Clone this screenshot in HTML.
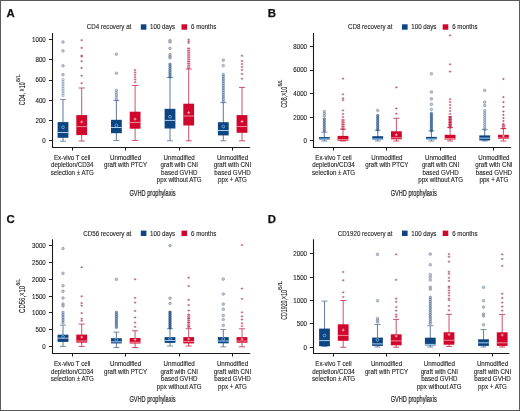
<!DOCTYPE html>
<html><head><meta charset="utf-8"><style>
html,body{margin:0;padding:0;background:#fff;}
.wrap{position:relative;width:520px;height:411px;overflow:hidden;background:#fff;}
.wrap svg{position:absolute;left:0;top:0;}
.t{fill:#1e1e1e;stroke:#1e1e1e;stroke-width:0.12px;}
svg{will-change:transform;}
.border{position:absolute;left:0;top:0;width:518px;height:409px;border:1px solid #5a5a5a;}
</style></head><body>
<div class="wrap">
<svg width="520" height="411" viewBox="0 0 520 411" font-family='"Liberation Sans", sans-serif'>
<text x="6.6" y="16.6" font-size="11.4" font-weight="bold" fill="#111" stroke="#111" stroke-width="0.25">A</text>
<text transform="translate(131.3,29.2) scale(0.895,1)" font-size="6.9" text-anchor="end" class="t">CD4 recovery at</text>
<rect x="140.8" y="24.3" width="5.6" height="5.4" fill="#0e4580"/>
<text transform="translate(150.1,29.2) scale(0.895,1)" font-size="6.9" class="t">100 days</text>
<rect x="181.5" y="24.3" width="5.6" height="5.4" fill="#d0062c"/>
<text transform="translate(191,29.2) scale(0.895,1)" font-size="6.9" class="t">6 months</text>
<line x1="52.5" y1="33" x2="52.5" y2="148" stroke="#1a1a1a" stroke-width="1.1"/>
<line x1="52" y1="147.5" x2="250.2" y2="147.5" stroke="#1a1a1a" stroke-width="1.1"/>
<line x1="72.5" y1="147.5" x2="72.5" y2="150.5" stroke="#1a1a1a" stroke-width="1"/>
<line x1="125.5" y1="147.5" x2="125.5" y2="150.5" stroke="#1a1a1a" stroke-width="1"/>
<line x1="179.5" y1="147.5" x2="179.5" y2="150.5" stroke="#1a1a1a" stroke-width="1"/>
<line x1="232.5" y1="147.5" x2="232.5" y2="150.5" stroke="#1a1a1a" stroke-width="1"/>
<line x1="48.9" y1="140.5" x2="52.5" y2="140.5" stroke="#222" stroke-width="1"/>
<text transform="translate(45.8,142.7) scale(0.895,1)" font-size="6.9" text-anchor="end" class="t">0</text>
<line x1="48.9" y1="120.5" x2="52.5" y2="120.5" stroke="#222" stroke-width="1"/>
<text transform="translate(45.8,122.6) scale(0.895,1)" font-size="6.9" text-anchor="end" class="t">200</text>
<line x1="48.9" y1="100.5" x2="52.5" y2="100.5" stroke="#222" stroke-width="1"/>
<text transform="translate(45.8,102.5) scale(0.895,1)" font-size="6.9" text-anchor="end" class="t">400</text>
<line x1="48.9" y1="80.5" x2="52.5" y2="80.5" stroke="#222" stroke-width="1"/>
<text transform="translate(45.8,82.4) scale(0.895,1)" font-size="6.9" text-anchor="end" class="t">600</text>
<line x1="48.9" y1="59.5" x2="52.5" y2="59.5" stroke="#222" stroke-width="1"/>
<text transform="translate(45.8,62.3) scale(0.895,1)" font-size="6.9" text-anchor="end" class="t">800</text>
<line x1="48.9" y1="39.5" x2="52.5" y2="39.5" stroke="#222" stroke-width="1"/>
<text transform="translate(45.8,42.2) scale(0.895,1)" font-size="6.9" text-anchor="end" class="t">1000</text>
<g transform="translate(25.4,105.2) rotate(-90)" style="stroke-width:0.22px"><text x="0" y="0" font-size="8.7" textLength="22.9" lengthAdjust="spacingAndGlyphs" class="t">CD4, ×10</text><text x="23.2" y="-5.0" font-size="5.6" textLength="7.7" lengthAdjust="spacingAndGlyphs" class="t">6/L</text></g>
<text transform="translate(72.2,159.6) scale(0.895,1)" font-size="6.9" text-anchor="middle" class="t">Ex-vivo T cell</text>
<text transform="translate(72.2,167.2) scale(0.895,1)" font-size="6.9" text-anchor="middle" class="t">depletion/CD34</text>
<text transform="translate(72.2,174.8) scale(0.895,1)" font-size="6.9" text-anchor="middle" class="t">selection ± ATG</text>
<text transform="translate(125.6,159.6) scale(0.895,1)" font-size="6.9" text-anchor="middle" class="t">Unmodified</text>
<text transform="translate(125.6,167.2) scale(0.895,1)" font-size="6.9" text-anchor="middle" class="t">graft with PTCY</text>
<text transform="translate(179.2,159.6) scale(0.895,1)" font-size="6.9" text-anchor="middle" class="t">Unmodified</text>
<text transform="translate(179.2,167.2) scale(0.895,1)" font-size="6.9" text-anchor="middle" class="t">graft with CNI</text>
<text transform="translate(179.2,174.8) scale(0.895,1)" font-size="6.9" text-anchor="middle" class="t">based GVHD</text>
<text transform="translate(179.2,182.4) scale(0.895,1)" font-size="6.9" text-anchor="middle" class="t">ppx without ATG</text>
<text transform="translate(232.5,159.6) scale(0.895,1)" font-size="6.9" text-anchor="middle" class="t">Unmodified</text>
<text transform="translate(232.5,167.2) scale(0.895,1)" font-size="6.9" text-anchor="middle" class="t">graft with CNI</text>
<text transform="translate(232.5,174.8) scale(0.895,1)" font-size="6.9" text-anchor="middle" class="t">based GVHD</text>
<text transform="translate(232.5,182.4) scale(0.895,1)" font-size="6.9" text-anchor="middle" class="t">ppx + ATG</text>
<text x="129.5" y="195.8" font-size="8.7" textLength="46" lengthAdjust="spacingAndGlyphs" class="t" style="stroke-width:0.2px">GVHD prophylaxis</text>
<line x1="63" y1="99.5" x2="63" y2="141.2" stroke="#6a84a4" stroke-width="1.1"/>
<line x1="60" y1="99.5" x2="66" y2="99.5" stroke="#6a84a4" stroke-width="0.9"/>
<line x1="60" y1="141.2" x2="66" y2="141.2" stroke="#6a84a4" stroke-width="0.9"/>
<rect x="61.7" y="78.5" width="2.6" height="18.2" fill="#1f4a80" opacity="0.15"/>
<circle cx="63" cy="42" r="1.3" fill="#a8acb4" fill-opacity="0.75" stroke="#7a8aa2" stroke-width="0.7" opacity="0.9"/>
<circle cx="63" cy="50.8" r="1.3" fill="#a8acb4" fill-opacity="0.75" stroke="#7a8aa2" stroke-width="0.7" opacity="0.9"/>
<circle cx="63" cy="65.8" r="1.3" fill="#a8acb4" fill-opacity="0.75" stroke="#7a8aa2" stroke-width="0.7" opacity="0.9"/>
<circle cx="63" cy="74.7" r="1.3" fill="#a8acb4" fill-opacity="0.75" stroke="#7a8aa2" stroke-width="0.7" opacity="0.9"/>
<circle cx="63" cy="79.5" r="1.2" fill="none" stroke="#2c5a90" stroke-width="0.6" opacity="0.45"/>
<circle cx="63" cy="81.81" r="1.2" fill="none" stroke="#2c5a90" stroke-width="0.6" opacity="0.45"/>
<circle cx="63" cy="84.13" r="1.2" fill="none" stroke="#2c5a90" stroke-width="0.6" opacity="0.45"/>
<circle cx="63" cy="86.44" r="1.2" fill="none" stroke="#2c5a90" stroke-width="0.6" opacity="0.45"/>
<circle cx="63" cy="88.76" r="1.2" fill="none" stroke="#2c5a90" stroke-width="0.6" opacity="0.45"/>
<circle cx="63" cy="91.07" r="1.2" fill="none" stroke="#2c5a90" stroke-width="0.6" opacity="0.45"/>
<circle cx="63" cy="93.39" r="1.2" fill="none" stroke="#2c5a90" stroke-width="0.6" opacity="0.45"/>
<circle cx="63" cy="95.7" r="1.2" fill="none" stroke="#2c5a90" stroke-width="0.6" opacity="0.45"/>
<rect x="57.6" y="122.1" width="10.8" height="15.7" fill="#0e4580"/>
<line x1="57.6" y1="132.5" x2="68.4" y2="132.5" stroke="#a8d0f4" stroke-width="1"/>
<circle cx="63" cy="127.3" r="1.4" fill="none" stroke="#8fbce6" stroke-width="0.7"/>
<line x1="81.7" y1="88" x2="81.7" y2="141" stroke="#c4405e" stroke-width="0.9"/>
<line x1="78.7" y1="88" x2="84.7" y2="88" stroke="#c4405e" stroke-width="0.9"/>
<line x1="78.7" y1="141" x2="84.7" y2="141" stroke="#c4405e" stroke-width="0.9"/>
<path d="M80.4 40.2H83M81.7 39.1V41.3" stroke="#b04a66" stroke-width="0.9" fill="none" opacity="0.8"/>
<path d="M80.4 47.9H83M81.7 46.8V49" stroke="#b04a66" stroke-width="0.9" fill="none" opacity="0.8"/>
<path d="M80.4 55.6H83M81.7 54.5V56.7" stroke="#b04a66" stroke-width="0.9" fill="none" opacity="0.8"/>
<path d="M80.4 56.6H83M81.7 55.5V57.7" stroke="#b04a66" stroke-width="0.9" fill="none" opacity="0.8"/>
<path d="M80.4 61.2H83M81.7 60.1V62.3" stroke="#b04a66" stroke-width="0.9" fill="none" opacity="0.8"/>
<path d="M80.4 67.9H83M81.7 66.8V69" stroke="#b04a66" stroke-width="0.9" fill="none" opacity="0.8"/>
<path d="M80.4 75.7H83M81.7 74.6V76.8" stroke="#b04a66" stroke-width="0.9" fill="none" opacity="0.8"/>
<path d="M80.4 83.2H83M81.7 82.1V84.3" stroke="#b04a66" stroke-width="0.9" fill="none" opacity="0.8"/>
<rect x="76.3" y="115.1" width="10.8" height="20" fill="#d0062c"/>
<line x1="76.3" y1="126.6" x2="87.1" y2="126.6" stroke="#f28c9c" stroke-width="1"/>
<path d="M80.3 122H83.1M81.7 120.6V123.4" stroke="#f6c0c8" stroke-width="0.8" fill="none"/>
<line x1="116.4" y1="100.4" x2="116.4" y2="140.5" stroke="#6a84a4" stroke-width="1.1"/>
<line x1="113.4" y1="100.4" x2="119.4" y2="100.4" stroke="#6a84a4" stroke-width="0.9"/>
<line x1="113.4" y1="140.5" x2="119.4" y2="140.5" stroke="#6a84a4" stroke-width="0.9"/>
<rect x="115.1" y="89.2" width="2.6" height="11.8" fill="#1f4a80" opacity="0.25"/>
<circle cx="116.4" cy="54.2" r="1.3" fill="#a8acb4" fill-opacity="0.75" stroke="#7a8aa2" stroke-width="0.7" opacity="0.9"/>
<circle cx="116.4" cy="73.2" r="1.3" fill="#a8acb4" fill-opacity="0.75" stroke="#7a8aa2" stroke-width="0.7" opacity="0.9"/>
<circle cx="116.4" cy="90.2" r="1.2" fill="none" stroke="#2c5a90" stroke-width="0.6" opacity="0.55"/>
<circle cx="116.4" cy="92.65" r="1.2" fill="none" stroke="#2c5a90" stroke-width="0.6" opacity="0.55"/>
<circle cx="116.4" cy="95.1" r="1.2" fill="none" stroke="#2c5a90" stroke-width="0.6" opacity="0.55"/>
<circle cx="116.4" cy="97.55" r="1.2" fill="none" stroke="#2c5a90" stroke-width="0.6" opacity="0.55"/>
<circle cx="116.4" cy="100" r="1.2" fill="none" stroke="#2c5a90" stroke-width="0.6" opacity="0.55"/>
<rect x="111" y="119.8" width="10.8" height="13.4" fill="#0e4580"/>
<line x1="111" y1="127.5" x2="121.8" y2="127.5" stroke="#a8d0f4" stroke-width="1"/>
<circle cx="116.4" cy="125.5" r="1.4" fill="none" stroke="#8fbce6" stroke-width="0.7"/>
<line x1="135.1" y1="85.5" x2="135.1" y2="140.5" stroke="#c4405e" stroke-width="0.9"/>
<line x1="132.1" y1="85.5" x2="138.1" y2="85.5" stroke="#c4405e" stroke-width="0.9"/>
<line x1="132.1" y1="140.5" x2="138.1" y2="140.5" stroke="#c4405e" stroke-width="0.9"/>
<path d="M133.8 70H136.4M135.1 68.9V71.1" stroke="#b04a66" stroke-width="0.9" fill="none" opacity="0.8"/>
<path d="M133.8 72.4H136.4M135.1 71.3V73.5" stroke="#b04a66" stroke-width="0.9" fill="none" opacity="0.8"/>
<path d="M133.8 74.8H136.4M135.1 73.7V75.9" stroke="#b04a66" stroke-width="0.9" fill="none" opacity="0.8"/>
<path d="M133.8 77.2H136.4M135.1 76.1V78.3" stroke="#b04a66" stroke-width="0.9" fill="none" opacity="0.8"/>
<path d="M133.8 79.6H136.4M135.1 78.5V80.7" stroke="#b04a66" stroke-width="0.9" fill="none" opacity="0.8"/>
<path d="M133.8 82.2H136.4M135.1 81.1V83.3" stroke="#b04a66" stroke-width="0.9" fill="none" opacity="0.8"/>
<rect x="129.7" y="111.7" width="10.8" height="17" fill="#d0062c"/>
<line x1="129.7" y1="122.4" x2="140.5" y2="122.4" stroke="#f28c9c" stroke-width="1"/>
<path d="M133.7 119.1H136.5M135.1 117.7V120.5" stroke="#f6c0c8" stroke-width="0.8" fill="none"/>
<line x1="170" y1="77.5" x2="170" y2="140.8" stroke="#6a84a4" stroke-width="1.1"/>
<line x1="167" y1="77.5" x2="173" y2="77.5" stroke="#6a84a4" stroke-width="0.9"/>
<line x1="167" y1="140.8" x2="173" y2="140.8" stroke="#6a84a4" stroke-width="0.9"/>
<rect x="168.7" y="63.2" width="2.6" height="14.8" fill="#1f4a80" opacity="0.5"/>
<circle cx="170" cy="40.5" r="1.3" fill="#a8acb4" fill-opacity="0.75" stroke="#7a8aa2" stroke-width="0.7" opacity="0.9"/>
<circle cx="170" cy="42" r="1.3" fill="#a8acb4" fill-opacity="0.75" stroke="#7a8aa2" stroke-width="0.7" opacity="0.9"/>
<circle cx="170" cy="48.4" r="1.3" fill="#a8acb4" fill-opacity="0.75" stroke="#7a8aa2" stroke-width="0.7" opacity="0.9"/>
<circle cx="170" cy="54.7" r="1.3" fill="#a8acb4" fill-opacity="0.75" stroke="#7a8aa2" stroke-width="0.7" opacity="0.9"/>
<circle cx="170" cy="56.3" r="1.3" fill="#a8acb4" fill-opacity="0.75" stroke="#7a8aa2" stroke-width="0.7" opacity="0.9"/>
<circle cx="170" cy="57.9" r="1.3" fill="#a8acb4" fill-opacity="0.75" stroke="#7a8aa2" stroke-width="0.7" opacity="0.9"/>
<circle cx="170" cy="64.2" r="1.2" fill="none" stroke="#2c5a90" stroke-width="0.6" opacity="0.8"/>
<circle cx="170" cy="66.33" r="1.2" fill="none" stroke="#2c5a90" stroke-width="0.6" opacity="0.8"/>
<circle cx="170" cy="68.47" r="1.2" fill="none" stroke="#2c5a90" stroke-width="0.6" opacity="0.8"/>
<circle cx="170" cy="70.6" r="1.2" fill="none" stroke="#2c5a90" stroke-width="0.6" opacity="0.8"/>
<circle cx="170" cy="72.73" r="1.2" fill="none" stroke="#2c5a90" stroke-width="0.6" opacity="0.8"/>
<circle cx="170" cy="74.87" r="1.2" fill="none" stroke="#2c5a90" stroke-width="0.6" opacity="0.8"/>
<circle cx="170" cy="77" r="1.2" fill="none" stroke="#2c5a90" stroke-width="0.6" opacity="0.8"/>
<rect x="164.6" y="108.8" width="10.8" height="19.7" fill="#0e4580"/>
<line x1="164.6" y1="120.4" x2="175.4" y2="120.4" stroke="#a8d0f4" stroke-width="1"/>
<circle cx="170" cy="116.8" r="1.4" fill="none" stroke="#8fbce6" stroke-width="0.7"/>
<line x1="188.7" y1="69" x2="188.7" y2="140.8" stroke="#c4405e" stroke-width="0.9"/>
<line x1="185.7" y1="69" x2="191.7" y2="69" stroke="#c4405e" stroke-width="0.9"/>
<line x1="185.7" y1="140.8" x2="191.7" y2="140.8" stroke="#c4405e" stroke-width="0.9"/>
<rect x="187.2" y="47.4" width="3" height="21.6" fill="#c81a3c" opacity="0.35"/>
<path d="M187.4 39.7H190M188.7 38.6V40.8" stroke="#b04a66" stroke-width="0.9" fill="none" opacity="0.8"/>
<path d="M187.4 41.3H190M188.7 40.2V42.4" stroke="#b04a66" stroke-width="0.9" fill="none" opacity="0.8"/>
<path d="M187.4 42.9H190M188.7 41.8V44" stroke="#b04a66" stroke-width="0.9" fill="none" opacity="0.8"/>
<rect x="187.2" y="47.9" width="3" height="1" fill="#c42244" opacity="0.65"/>
<rect x="187.2" y="50.08" width="3" height="1" fill="#c42244" opacity="0.65"/>
<rect x="187.2" y="52.26" width="3" height="1" fill="#c42244" opacity="0.65"/>
<rect x="187.2" y="54.43" width="3" height="1" fill="#c42244" opacity="0.65"/>
<rect x="187.2" y="56.61" width="3" height="1" fill="#c42244" opacity="0.65"/>
<rect x="187.2" y="58.79" width="3" height="1" fill="#c42244" opacity="0.65"/>
<rect x="187.2" y="60.97" width="3" height="1" fill="#c42244" opacity="0.65"/>
<rect x="187.2" y="63.14" width="3" height="1" fill="#c42244" opacity="0.65"/>
<rect x="187.2" y="65.32" width="3" height="1" fill="#c42244" opacity="0.65"/>
<rect x="187.2" y="67.5" width="3" height="1" fill="#c42244" opacity="0.65"/>
<rect x="183.3" y="103.7" width="10.8" height="21.8" fill="#d0062c"/>
<line x1="183.3" y1="116" x2="194.1" y2="116" stroke="#f28c9c" stroke-width="1"/>
<path d="M187.3 112.7H190.1M188.7 111.3V114.1" stroke="#f6c0c8" stroke-width="0.8" fill="none"/>
<line x1="223.3" y1="102.6" x2="223.3" y2="140.8" stroke="#6a84a4" stroke-width="1.1"/>
<line x1="220.3" y1="102.6" x2="226.3" y2="102.6" stroke="#6a84a4" stroke-width="0.9"/>
<line x1="220.3" y1="140.8" x2="226.3" y2="140.8" stroke="#6a84a4" stroke-width="0.9"/>
<rect x="222" y="73.4" width="2.6" height="29.2" fill="#1f4a80" opacity="0.35"/>
<circle cx="223.3" cy="60.2" r="1.3" fill="#a8acb4" fill-opacity="0.75" stroke="#7a8aa2" stroke-width="0.7" opacity="0.9"/>
<circle cx="223.3" cy="65.6" r="1.3" fill="#a8acb4" fill-opacity="0.75" stroke="#7a8aa2" stroke-width="0.7" opacity="0.9"/>
<circle cx="223.3" cy="74.4" r="1.2" fill="none" stroke="#2c5a90" stroke-width="0.6" opacity="0.65"/>
<circle cx="223.3" cy="76.67" r="1.2" fill="none" stroke="#2c5a90" stroke-width="0.6" opacity="0.65"/>
<circle cx="223.3" cy="78.93" r="1.2" fill="none" stroke="#2c5a90" stroke-width="0.6" opacity="0.65"/>
<circle cx="223.3" cy="81.2" r="1.2" fill="none" stroke="#2c5a90" stroke-width="0.6" opacity="0.65"/>
<circle cx="223.3" cy="83.47" r="1.2" fill="none" stroke="#2c5a90" stroke-width="0.6" opacity="0.65"/>
<circle cx="223.3" cy="85.73" r="1.2" fill="none" stroke="#2c5a90" stroke-width="0.6" opacity="0.65"/>
<circle cx="223.3" cy="88" r="1.2" fill="none" stroke="#2c5a90" stroke-width="0.6" opacity="0.65"/>
<circle cx="223.3" cy="90.27" r="1.2" fill="none" stroke="#2c5a90" stroke-width="0.6" opacity="0.65"/>
<circle cx="223.3" cy="92.53" r="1.2" fill="none" stroke="#2c5a90" stroke-width="0.6" opacity="0.65"/>
<circle cx="223.3" cy="94.8" r="1.2" fill="none" stroke="#2c5a90" stroke-width="0.6" opacity="0.65"/>
<circle cx="223.3" cy="97.07" r="1.2" fill="none" stroke="#2c5a90" stroke-width="0.6" opacity="0.65"/>
<circle cx="223.3" cy="99.33" r="1.2" fill="none" stroke="#2c5a90" stroke-width="0.6" opacity="0.65"/>
<circle cx="223.3" cy="101.6" r="1.2" fill="none" stroke="#2c5a90" stroke-width="0.6" opacity="0.65"/>
<rect x="217.9" y="122.2" width="10.8" height="13.2" fill="#0e4580"/>
<line x1="217.9" y1="130.5" x2="228.7" y2="130.5" stroke="#a8d0f4" stroke-width="1"/>
<circle cx="223.3" cy="126.5" r="1.4" fill="none" stroke="#8fbce6" stroke-width="0.7"/>
<line x1="242" y1="87.4" x2="242" y2="140.8" stroke="#c4405e" stroke-width="0.9"/>
<line x1="239" y1="87.4" x2="245" y2="87.4" stroke="#c4405e" stroke-width="0.9"/>
<line x1="239" y1="140.8" x2="245" y2="140.8" stroke="#c4405e" stroke-width="0.9"/>
<path d="M240.7 55.8H243.3M242 54.7V56.9" stroke="#b04a66" stroke-width="0.9" fill="none" opacity="0.8"/>
<path d="M240.7 61H243.3M242 59.9V62.1" stroke="#b04a66" stroke-width="0.9" fill="none" opacity="0.8"/>
<path d="M240.7 64H243.3M242 62.9V65.1" stroke="#b04a66" stroke-width="0.9" fill="none" opacity="0.8"/>
<path d="M240.7 67H243.3M242 65.9V68.1" stroke="#b04a66" stroke-width="0.9" fill="none" opacity="0.8"/>
<path d="M240.7 70H243.3M242 68.9V71.1" stroke="#b04a66" stroke-width="0.9" fill="none" opacity="0.8"/>
<path d="M240.7 74H243.3M242 72.9V75.1" stroke="#b04a66" stroke-width="0.9" fill="none" opacity="0.8"/>
<path d="M240.7 78.7H243.3M242 77.6V79.8" stroke="#b04a66" stroke-width="0.9" fill="none" opacity="0.8"/>
<rect x="236.6" y="115.1" width="10.8" height="17.7" fill="#d0062c"/>
<line x1="236.6" y1="126.5" x2="247.4" y2="126.5" stroke="#f28c9c" stroke-width="1"/>
<path d="M240.6 121.5H243.4M242 120.1V122.9" stroke="#f6c0c8" stroke-width="0.8" fill="none"/>
<text x="267.8" y="16.6" font-size="11.4" font-weight="bold" fill="#111" stroke="#111" stroke-width="0.25">B</text>
<text transform="translate(392.5,29.2) scale(0.895,1)" font-size="6.9" text-anchor="end" class="t">CD8 recovery at</text>
<rect x="402" y="24.3" width="5.6" height="5.4" fill="#0e4580"/>
<text transform="translate(411.3,29.2) scale(0.895,1)" font-size="6.9" class="t">100 days</text>
<rect x="442.7" y="24.3" width="5.6" height="5.4" fill="#d0062c"/>
<text transform="translate(452.2,29.2) scale(0.895,1)" font-size="6.9" class="t">6 months</text>
<line x1="313.5" y1="33" x2="313.5" y2="148" stroke="#1a1a1a" stroke-width="1.1"/>
<line x1="313" y1="147.5" x2="511.1" y2="147.5" stroke="#1a1a1a" stroke-width="1.1"/>
<line x1="333.5" y1="147.5" x2="333.5" y2="150.5" stroke="#1a1a1a" stroke-width="1"/>
<line x1="386.5" y1="147.5" x2="386.5" y2="150.5" stroke="#1a1a1a" stroke-width="1"/>
<line x1="440.5" y1="147.5" x2="440.5" y2="150.5" stroke="#1a1a1a" stroke-width="1"/>
<line x1="493.5" y1="147.5" x2="493.5" y2="150.5" stroke="#1a1a1a" stroke-width="1"/>
<line x1="309.9" y1="140.5" x2="313.5" y2="140.5" stroke="#222" stroke-width="1"/>
<text transform="translate(307,143.3) scale(0.895,1)" font-size="6.9" text-anchor="end" class="t">0</text>
<line x1="309.9" y1="117.5" x2="313.5" y2="117.5" stroke="#222" stroke-width="1"/>
<text transform="translate(307,119.68) scale(0.895,1)" font-size="6.9" text-anchor="end" class="t">2000</text>
<line x1="309.9" y1="93.5" x2="313.5" y2="93.5" stroke="#222" stroke-width="1"/>
<text transform="translate(307,96.05) scale(0.895,1)" font-size="6.9" text-anchor="end" class="t">4000</text>
<line x1="309.9" y1="70.5" x2="313.5" y2="70.5" stroke="#222" stroke-width="1"/>
<text transform="translate(307,72.43) scale(0.895,1)" font-size="6.9" text-anchor="end" class="t">6000</text>
<line x1="309.9" y1="46.5" x2="313.5" y2="46.5" stroke="#222" stroke-width="1"/>
<text transform="translate(307,48.8) scale(0.895,1)" font-size="6.9" text-anchor="end" class="t">8000</text>
<g transform="translate(286.6,107.8) rotate(-90)" style="stroke-width:0.22px"><text x="0" y="0" font-size="8.7" textLength="20.9" lengthAdjust="spacingAndGlyphs" class="t">CD8,×10</text><text x="21.2" y="-5.0" font-size="5.6" textLength="6.9" lengthAdjust="spacingAndGlyphs" class="t">6/L</text></g>
<text transform="translate(333.5,159.6) scale(0.895,1)" font-size="6.9" text-anchor="middle" class="t">Ex-vivo T cell</text>
<text transform="translate(333.5,167.2) scale(0.895,1)" font-size="6.9" text-anchor="middle" class="t">depletion/CD34</text>
<text transform="translate(333.5,174.8) scale(0.895,1)" font-size="6.9" text-anchor="middle" class="t">selection ± ATG</text>
<text transform="translate(386.9,159.6) scale(0.895,1)" font-size="6.9" text-anchor="middle" class="t">Unmodified</text>
<text transform="translate(386.9,167.2) scale(0.895,1)" font-size="6.9" text-anchor="middle" class="t">graft with PTCY</text>
<text transform="translate(440.6,159.6) scale(0.895,1)" font-size="6.9" text-anchor="middle" class="t">Unmodified</text>
<text transform="translate(440.6,167.2) scale(0.895,1)" font-size="6.9" text-anchor="middle" class="t">graft with CNI</text>
<text transform="translate(440.6,174.8) scale(0.895,1)" font-size="6.9" text-anchor="middle" class="t">based GVHD</text>
<text transform="translate(440.6,182.4) scale(0.895,1)" font-size="6.9" text-anchor="middle" class="t">ppx without ATG</text>
<text transform="translate(493.9,159.6) scale(0.895,1)" font-size="6.9" text-anchor="middle" class="t">Unmodified</text>
<text transform="translate(493.9,167.2) scale(0.895,1)" font-size="6.9" text-anchor="middle" class="t">graft with CNI</text>
<text transform="translate(493.9,174.8) scale(0.895,1)" font-size="6.9" text-anchor="middle" class="t">based GVHD</text>
<text transform="translate(493.9,182.4) scale(0.895,1)" font-size="6.9" text-anchor="middle" class="t">ppx + ATG</text>
<text x="390.7" y="195.8" font-size="8.7" textLength="46" lengthAdjust="spacingAndGlyphs" class="t" style="stroke-width:0.2px">GVHD prophylaxis</text>
<line x1="324.3" y1="132.2" x2="324.3" y2="141" stroke="#6a84a4" stroke-width="1.1"/>
<line x1="321.3" y1="132.2" x2="327.3" y2="132.2" stroke="#6a84a4" stroke-width="0.9"/>
<line x1="321.3" y1="141" x2="327.3" y2="141" stroke="#6a84a4" stroke-width="0.9"/>
<rect x="323" y="118" width="2.6" height="14" fill="#1f4a80" opacity="0.5"/>
<circle cx="324.3" cy="111.5" r="1.3" fill="#a8acb4" fill-opacity="0.75" stroke="#7a8aa2" stroke-width="0.7" opacity="0.9"/>
<circle cx="324.3" cy="113.5" r="1.3" fill="#a8acb4" fill-opacity="0.75" stroke="#7a8aa2" stroke-width="0.7" opacity="0.9"/>
<circle cx="324.3" cy="116" r="1.3" fill="#a8acb4" fill-opacity="0.75" stroke="#7a8aa2" stroke-width="0.7" opacity="0.9"/>
<circle cx="324.3" cy="119" r="1.2" fill="none" stroke="#2c5a90" stroke-width="0.6" opacity="0.8"/>
<circle cx="324.3" cy="121.4" r="1.2" fill="none" stroke="#2c5a90" stroke-width="0.6" opacity="0.8"/>
<circle cx="324.3" cy="123.8" r="1.2" fill="none" stroke="#2c5a90" stroke-width="0.6" opacity="0.8"/>
<circle cx="324.3" cy="126.2" r="1.2" fill="none" stroke="#2c5a90" stroke-width="0.6" opacity="0.8"/>
<circle cx="324.3" cy="128.6" r="1.2" fill="none" stroke="#2c5a90" stroke-width="0.6" opacity="0.8"/>
<circle cx="324.3" cy="131" r="1.2" fill="none" stroke="#2c5a90" stroke-width="0.6" opacity="0.8"/>
<rect x="318.9" y="137.1" width="10.8" height="2.5" fill="#0e4580"/>
<line x1="318.9" y1="139" x2="329.7" y2="139" stroke="#a8d0f4" stroke-width="1"/>
<line x1="343" y1="129.2" x2="343" y2="141" stroke="#c4405e" stroke-width="0.9"/>
<line x1="340" y1="129.2" x2="346" y2="129.2" stroke="#c4405e" stroke-width="0.9"/>
<line x1="340" y1="141" x2="346" y2="141" stroke="#c4405e" stroke-width="0.9"/>
<rect x="341.5" y="119" width="3" height="11" fill="#c81a3c" opacity="0.45"/>
<path d="M341.7 78.7H344.3M343 77.6V79.8" stroke="#b04a66" stroke-width="0.9" fill="none" opacity="0.8"/>
<path d="M341.7 94.3H344.3M343 93.2V95.4" stroke="#b04a66" stroke-width="0.9" fill="none" opacity="0.8"/>
<path d="M341.7 98.2H344.3M343 97.1V99.3" stroke="#b04a66" stroke-width="0.9" fill="none" opacity="0.8"/>
<path d="M341.7 100.1H344.3M343 99V101.2" stroke="#b04a66" stroke-width="0.9" fill="none" opacity="0.8"/>
<path d="M341.7 110.4H344.3M343 109.3V111.5" stroke="#b04a66" stroke-width="0.9" fill="none" opacity="0.8"/>
<path d="M341.7 114H344.3M343 112.9V115.1" stroke="#b04a66" stroke-width="0.9" fill="none" opacity="0.8"/>
<path d="M341.7 117H344.3M343 115.9V118.1" stroke="#b04a66" stroke-width="0.9" fill="none" opacity="0.8"/>
<rect x="341.5" y="119.5" width="3" height="1" fill="#c42244" opacity="0.75"/>
<rect x="341.5" y="121.75" width="3" height="1" fill="#c42244" opacity="0.75"/>
<rect x="341.5" y="124" width="3" height="1" fill="#c42244" opacity="0.75"/>
<rect x="341.5" y="126.25" width="3" height="1" fill="#c42244" opacity="0.75"/>
<rect x="341.5" y="128.5" width="3" height="1" fill="#c42244" opacity="0.75"/>
<rect x="337.6" y="135.9" width="10.8" height="4.8" fill="#d0062c"/>
<line x1="337.6" y1="139.6" x2="348.4" y2="139.6" stroke="#f28c9c" stroke-width="1"/>
<line x1="377.7" y1="130.2" x2="377.7" y2="141" stroke="#6a84a4" stroke-width="1.1"/>
<line x1="374.7" y1="130.2" x2="380.7" y2="130.2" stroke="#6a84a4" stroke-width="0.9"/>
<line x1="374.7" y1="141" x2="380.7" y2="141" stroke="#6a84a4" stroke-width="0.9"/>
<rect x="376.4" y="114.5" width="2.6" height="16.5" fill="#1f4a80" opacity="0.6"/>
<circle cx="377.7" cy="110.4" r="1.3" fill="#a8acb4" fill-opacity="0.75" stroke="#7a8aa2" stroke-width="0.7" opacity="0.9"/>
<circle cx="377.7" cy="115.5" r="1.2" fill="none" stroke="#2c5a90" stroke-width="0.6" opacity="0.9"/>
<circle cx="377.7" cy="117.92" r="1.2" fill="none" stroke="#2c5a90" stroke-width="0.6" opacity="0.9"/>
<circle cx="377.7" cy="120.33" r="1.2" fill="none" stroke="#2c5a90" stroke-width="0.6" opacity="0.9"/>
<circle cx="377.7" cy="122.75" r="1.2" fill="none" stroke="#2c5a90" stroke-width="0.6" opacity="0.9"/>
<circle cx="377.7" cy="125.17" r="1.2" fill="none" stroke="#2c5a90" stroke-width="0.6" opacity="0.9"/>
<circle cx="377.7" cy="127.58" r="1.2" fill="none" stroke="#2c5a90" stroke-width="0.6" opacity="0.9"/>
<circle cx="377.7" cy="130" r="1.2" fill="none" stroke="#2c5a90" stroke-width="0.6" opacity="0.9"/>
<rect x="372.3" y="136.2" width="10.8" height="3.4" fill="#0e4580"/>
<line x1="372.3" y1="139" x2="383.1" y2="139" stroke="#a8d0f4" stroke-width="1"/>
<line x1="396.4" y1="118.3" x2="396.4" y2="141" stroke="#c4405e" stroke-width="0.9"/>
<line x1="393.4" y1="118.3" x2="399.4" y2="118.3" stroke="#c4405e" stroke-width="0.9"/>
<line x1="393.4" y1="141" x2="399.4" y2="141" stroke="#c4405e" stroke-width="0.9"/>
<path d="M395.1 87.4H397.7M396.4 86.3V88.5" stroke="#b04a66" stroke-width="0.9" fill="none" opacity="0.8"/>
<path d="M395.1 108.5H397.7M396.4 107.4V109.6" stroke="#b04a66" stroke-width="0.9" fill="none" opacity="0.8"/>
<path d="M395.1 113.7H397.7M396.4 112.6V114.8" stroke="#b04a66" stroke-width="0.9" fill="none" opacity="0.8"/>
<rect x="391" y="131.3" width="10.8" height="8" fill="#d0062c"/>
<line x1="391" y1="137.8" x2="401.8" y2="137.8" stroke="#f28c9c" stroke-width="1"/>
<path d="M395 134.8H397.8M396.4 133.4V136.2" stroke="#f6c0c8" stroke-width="0.8" fill="none"/>
<line x1="431.4" y1="130.8" x2="431.4" y2="141" stroke="#6a84a4" stroke-width="1.1"/>
<line x1="428.4" y1="130.8" x2="434.4" y2="130.8" stroke="#6a84a4" stroke-width="0.9"/>
<line x1="428.4" y1="141" x2="434.4" y2="141" stroke="#6a84a4" stroke-width="0.9"/>
<rect x="430.1" y="112.5" width="2.6" height="19.3" fill="#1f4a80" opacity="0.65"/>
<circle cx="431.4" cy="73.8" r="1.3" fill="#a8acb4" fill-opacity="0.75" stroke="#7a8aa2" stroke-width="0.7" opacity="0.9"/>
<circle cx="431.4" cy="92.1" r="1.3" fill="#a8acb4" fill-opacity="0.75" stroke="#7a8aa2" stroke-width="0.7" opacity="0.9"/>
<circle cx="431.4" cy="98.9" r="1.3" fill="#a8acb4" fill-opacity="0.75" stroke="#7a8aa2" stroke-width="0.7" opacity="0.9"/>
<circle cx="431.4" cy="104.3" r="1.3" fill="#a8acb4" fill-opacity="0.75" stroke="#7a8aa2" stroke-width="0.7" opacity="0.9"/>
<circle cx="431.4" cy="109.5" r="1.3" fill="#a8acb4" fill-opacity="0.75" stroke="#7a8aa2" stroke-width="0.7" opacity="0.9"/>
<circle cx="431.4" cy="113.5" r="1.2" fill="none" stroke="#2c5a90" stroke-width="0.6" opacity="0.95"/>
<circle cx="431.4" cy="115.66" r="1.2" fill="none" stroke="#2c5a90" stroke-width="0.6" opacity="0.95"/>
<circle cx="431.4" cy="117.83" r="1.2" fill="none" stroke="#2c5a90" stroke-width="0.6" opacity="0.95"/>
<circle cx="431.4" cy="119.99" r="1.2" fill="none" stroke="#2c5a90" stroke-width="0.6" opacity="0.95"/>
<circle cx="431.4" cy="122.15" r="1.2" fill="none" stroke="#2c5a90" stroke-width="0.6" opacity="0.95"/>
<circle cx="431.4" cy="124.31" r="1.2" fill="none" stroke="#2c5a90" stroke-width="0.6" opacity="0.95"/>
<circle cx="431.4" cy="126.48" r="1.2" fill="none" stroke="#2c5a90" stroke-width="0.6" opacity="0.95"/>
<circle cx="431.4" cy="128.64" r="1.2" fill="none" stroke="#2c5a90" stroke-width="0.6" opacity="0.95"/>
<circle cx="431.4" cy="130.8" r="1.2" fill="none" stroke="#2c5a90" stroke-width="0.6" opacity="0.95"/>
<rect x="426" y="136.9" width="10.8" height="2.5" fill="#0e4580"/>
<line x1="426" y1="139" x2="436.8" y2="139" stroke="#a8d0f4" stroke-width="1"/>
<line x1="450.1" y1="127.4" x2="450.1" y2="141" stroke="#c4405e" stroke-width="0.9"/>
<line x1="447.1" y1="127.4" x2="453.1" y2="127.4" stroke="#c4405e" stroke-width="0.9"/>
<line x1="447.1" y1="141" x2="453.1" y2="141" stroke="#c4405e" stroke-width="0.9"/>
<rect x="448.6" y="116" width="3" height="12.4" fill="#c81a3c" opacity="0.8"/>
<path d="M448.8 35.4H451.4M450.1 34.3V36.5" stroke="#b04a66" stroke-width="0.9" fill="none" opacity="0.8"/>
<path d="M448.8 64.3H451.4M450.1 63.2V65.4" stroke="#b04a66" stroke-width="0.9" fill="none" opacity="0.8"/>
<path d="M448.8 71.6H451.4M450.1 70.5V72.7" stroke="#b04a66" stroke-width="0.9" fill="none" opacity="0.8"/>
<path d="M448.8 99.2H451.4M450.1 98.1V100.3" stroke="#b04a66" stroke-width="0.9" fill="none" opacity="0.8"/>
<path d="M448.8 102H451.4M450.1 100.9V103.1" stroke="#b04a66" stroke-width="0.9" fill="none" opacity="0.8"/>
<path d="M448.8 105H451.4M450.1 103.9V106.1" stroke="#b04a66" stroke-width="0.9" fill="none" opacity="0.8"/>
<path d="M448.8 108H451.4M450.1 106.9V109.1" stroke="#b04a66" stroke-width="0.9" fill="none" opacity="0.8"/>
<path d="M448.8 111H451.4M450.1 109.9V112.1" stroke="#b04a66" stroke-width="0.9" fill="none" opacity="0.8"/>
<path d="M448.8 114H451.4M450.1 112.9V115.1" stroke="#b04a66" stroke-width="0.9" fill="none" opacity="0.8"/>
<rect x="448.6" y="116.5" width="3" height="1" fill="#c42244" opacity="1"/>
<rect x="448.6" y="119.1" width="3" height="1" fill="#c42244" opacity="1"/>
<rect x="448.6" y="121.7" width="3" height="1" fill="#c42244" opacity="1"/>
<rect x="448.6" y="124.3" width="3" height="1" fill="#c42244" opacity="1"/>
<rect x="448.6" y="126.9" width="3" height="1" fill="#c42244" opacity="1"/>
<rect x="444.7" y="134.8" width="10.8" height="4.7" fill="#d0062c"/>
<line x1="444.7" y1="138.6" x2="455.5" y2="138.6" stroke="#f28c9c" stroke-width="1"/>
<line x1="484.7" y1="129.4" x2="484.7" y2="141" stroke="#6a84a4" stroke-width="1.1"/>
<line x1="481.7" y1="129.4" x2="487.7" y2="129.4" stroke="#6a84a4" stroke-width="0.9"/>
<line x1="481.7" y1="141" x2="487.7" y2="141" stroke="#6a84a4" stroke-width="0.9"/>
<rect x="483.4" y="109.6" width="2.6" height="20.8" fill="#1f4a80" opacity="0.25"/>
<circle cx="484.7" cy="90.4" r="1.3" fill="#a8acb4" fill-opacity="0.75" stroke="#7a8aa2" stroke-width="0.7" opacity="0.9"/>
<circle cx="484.7" cy="102.1" r="1.3" fill="#a8acb4" fill-opacity="0.75" stroke="#7a8aa2" stroke-width="0.7" opacity="0.9"/>
<circle cx="484.7" cy="105.5" r="1.3" fill="#a8acb4" fill-opacity="0.75" stroke="#7a8aa2" stroke-width="0.7" opacity="0.9"/>
<circle cx="484.7" cy="110.6" r="1.2" fill="none" stroke="#2c5a90" stroke-width="0.6" opacity="0.55"/>
<circle cx="484.7" cy="112.95" r="1.2" fill="none" stroke="#2c5a90" stroke-width="0.6" opacity="0.55"/>
<circle cx="484.7" cy="115.3" r="1.2" fill="none" stroke="#2c5a90" stroke-width="0.6" opacity="0.55"/>
<circle cx="484.7" cy="117.65" r="1.2" fill="none" stroke="#2c5a90" stroke-width="0.6" opacity="0.55"/>
<circle cx="484.7" cy="120" r="1.2" fill="none" stroke="#2c5a90" stroke-width="0.6" opacity="0.55"/>
<circle cx="484.7" cy="122.35" r="1.2" fill="none" stroke="#2c5a90" stroke-width="0.6" opacity="0.55"/>
<circle cx="484.7" cy="124.7" r="1.2" fill="none" stroke="#2c5a90" stroke-width="0.6" opacity="0.55"/>
<circle cx="484.7" cy="127.05" r="1.2" fill="none" stroke="#2c5a90" stroke-width="0.6" opacity="0.55"/>
<circle cx="484.7" cy="129.4" r="1.2" fill="none" stroke="#2c5a90" stroke-width="0.6" opacity="0.55"/>
<rect x="479.3" y="135.4" width="10.8" height="5" fill="#0e4580"/>
<line x1="479.3" y1="138.2" x2="490.1" y2="138.2" stroke="#a8d0f4" stroke-width="1"/>
<line x1="503.4" y1="128.5" x2="503.4" y2="141" stroke="#c4405e" stroke-width="0.9"/>
<line x1="500.4" y1="128.5" x2="506.4" y2="128.5" stroke="#c4405e" stroke-width="0.9"/>
<line x1="500.4" y1="141" x2="506.4" y2="141" stroke="#c4405e" stroke-width="0.9"/>
<rect x="501.9" y="124" width="3" height="5.5" fill="#c81a3c" opacity="0.4"/>
<path d="M502.1 79H504.7M503.4 77.9V80.1" stroke="#b04a66" stroke-width="0.9" fill="none" opacity="0.8"/>
<path d="M502.1 97H504.7M503.4 95.9V98.1" stroke="#b04a66" stroke-width="0.9" fill="none" opacity="0.8"/>
<path d="M502.1 102.1H504.7M503.4 101V103.2" stroke="#b04a66" stroke-width="0.9" fill="none" opacity="0.8"/>
<path d="M502.1 106.9H504.7M503.4 105.8V108" stroke="#b04a66" stroke-width="0.9" fill="none" opacity="0.8"/>
<path d="M502.1 111.5H504.7M503.4 110.4V112.6" stroke="#b04a66" stroke-width="0.9" fill="none" opacity="0.8"/>
<path d="M502.1 114.9H504.7M503.4 113.8V116" stroke="#b04a66" stroke-width="0.9" fill="none" opacity="0.8"/>
<path d="M502.1 118H504.7M503.4 116.9V119.1" stroke="#b04a66" stroke-width="0.9" fill="none" opacity="0.8"/>
<path d="M502.1 121H504.7M503.4 119.9V122.1" stroke="#b04a66" stroke-width="0.9" fill="none" opacity="0.8"/>
<path d="M502.1 124H504.7M503.4 122.9V125.1" stroke="#b04a66" stroke-width="0.9" fill="none" opacity="0.8"/>
<rect x="501.9" y="124.5" width="3" height="1" fill="#c42244" opacity="0.7"/>
<rect x="501.9" y="126.25" width="3" height="1" fill="#c42244" opacity="0.7"/>
<rect x="501.9" y="128" width="3" height="1" fill="#c42244" opacity="0.7"/>
<rect x="498" y="134.8" width="10.8" height="4" fill="#d0062c"/>
<line x1="498" y1="138" x2="508.8" y2="138" stroke="#f28c9c" stroke-width="1"/>
<path d="M502 136H504.8M503.4 134.6V137.4" stroke="#f6c0c8" stroke-width="0.8" fill="none"/>
<text x="6.6" y="222.9" font-size="11.4" font-weight="bold" fill="#111" stroke="#111" stroke-width="0.25">C</text>
<text transform="translate(131.3,235.5) scale(0.895,1)" font-size="6.9" text-anchor="end" class="t">CD56 recovery at</text>
<rect x="140.8" y="230.6" width="5.6" height="5.4" fill="#0e4580"/>
<text transform="translate(150.1,235.5) scale(0.895,1)" font-size="6.9" class="t">100 days</text>
<rect x="181.5" y="230.6" width="5.6" height="5.4" fill="#d0062c"/>
<text transform="translate(191,235.5) scale(0.895,1)" font-size="6.9" class="t">6 months</text>
<line x1="52.5" y1="239.3" x2="52.5" y2="354" stroke="#1a1a1a" stroke-width="1.1"/>
<line x1="52" y1="353.5" x2="250.2" y2="353.5" stroke="#1a1a1a" stroke-width="1.1"/>
<line x1="72.5" y1="353.5" x2="72.5" y2="356.5" stroke="#1a1a1a" stroke-width="1"/>
<line x1="125.5" y1="353.5" x2="125.5" y2="356.5" stroke="#1a1a1a" stroke-width="1"/>
<line x1="179.5" y1="353.5" x2="179.5" y2="356.5" stroke="#1a1a1a" stroke-width="1"/>
<line x1="232.5" y1="353.5" x2="232.5" y2="356.5" stroke="#1a1a1a" stroke-width="1"/>
<line x1="48.9" y1="346.5" x2="52.5" y2="346.5" stroke="#222" stroke-width="1"/>
<text transform="translate(45.8,349) scale(0.895,1)" font-size="6.9" text-anchor="end" class="t">0</text>
<line x1="48.9" y1="329.5" x2="52.5" y2="329.5" stroke="#222" stroke-width="1"/>
<text transform="translate(45.8,332.2) scale(0.895,1)" font-size="6.9" text-anchor="end" class="t">500</text>
<line x1="48.9" y1="312.5" x2="52.5" y2="312.5" stroke="#222" stroke-width="1"/>
<text transform="translate(45.8,315.4) scale(0.895,1)" font-size="6.9" text-anchor="end" class="t">1000</text>
<line x1="48.9" y1="296.5" x2="52.5" y2="296.5" stroke="#222" stroke-width="1"/>
<text transform="translate(45.8,298.6) scale(0.895,1)" font-size="6.9" text-anchor="end" class="t">1500</text>
<line x1="48.9" y1="279.5" x2="52.5" y2="279.5" stroke="#222" stroke-width="1"/>
<text transform="translate(45.8,281.8) scale(0.895,1)" font-size="6.9" text-anchor="end" class="t">2000</text>
<line x1="48.9" y1="262.5" x2="52.5" y2="262.5" stroke="#222" stroke-width="1"/>
<text transform="translate(45.8,265) scale(0.895,1)" font-size="6.9" text-anchor="end" class="t">2500</text>
<line x1="48.9" y1="245.5" x2="52.5" y2="245.5" stroke="#222" stroke-width="1"/>
<text transform="translate(45.8,248.2) scale(0.895,1)" font-size="6.9" text-anchor="end" class="t">3000</text>
<g transform="translate(25.4,312.9) rotate(-90)" style="stroke-width:0.22px"><text x="0" y="0" font-size="8.7" textLength="27.1" lengthAdjust="spacingAndGlyphs" class="t">CD56,×10</text><text x="27.4" y="-5.0" font-size="5.6" textLength="6.5" lengthAdjust="spacingAndGlyphs" class="t">6/L</text></g>
<text transform="translate(72.2,365.9) scale(0.895,1)" font-size="6.9" text-anchor="middle" class="t">Ex-vivo T cell</text>
<text transform="translate(72.2,373.5) scale(0.895,1)" font-size="6.9" text-anchor="middle" class="t">depletion/CD34</text>
<text transform="translate(72.2,381.1) scale(0.895,1)" font-size="6.9" text-anchor="middle" class="t">selection ± ATG</text>
<text transform="translate(125.6,365.9) scale(0.895,1)" font-size="6.9" text-anchor="middle" class="t">Unmodified</text>
<text transform="translate(125.6,373.5) scale(0.895,1)" font-size="6.9" text-anchor="middle" class="t">graft with PTCY</text>
<text transform="translate(179.2,365.9) scale(0.895,1)" font-size="6.9" text-anchor="middle" class="t">Unmodified</text>
<text transform="translate(179.2,373.5) scale(0.895,1)" font-size="6.9" text-anchor="middle" class="t">graft with CNI</text>
<text transform="translate(179.2,381.1) scale(0.895,1)" font-size="6.9" text-anchor="middle" class="t">based GVHD</text>
<text transform="translate(179.2,388.7) scale(0.895,1)" font-size="6.9" text-anchor="middle" class="t">ppx without ATG</text>
<text transform="translate(232.5,365.9) scale(0.895,1)" font-size="6.9" text-anchor="middle" class="t">Unmodified</text>
<text transform="translate(232.5,373.5) scale(0.895,1)" font-size="6.9" text-anchor="middle" class="t">graft with CNI</text>
<text transform="translate(232.5,381.1) scale(0.895,1)" font-size="6.9" text-anchor="middle" class="t">based GVHD</text>
<text transform="translate(232.5,388.7) scale(0.895,1)" font-size="6.9" text-anchor="middle" class="t">ppx + ATG</text>
<text x="129.5" y="402.1" font-size="8.7" textLength="46" lengthAdjust="spacingAndGlyphs" class="t" style="stroke-width:0.2px">GVHD prophylaxis</text>
<line x1="63" y1="325.1" x2="63" y2="346.4" stroke="#6a84a4" stroke-width="1.1"/>
<line x1="60" y1="325.1" x2="66" y2="325.1" stroke="#6a84a4" stroke-width="0.9"/>
<line x1="60" y1="346.4" x2="66" y2="346.4" stroke="#6a84a4" stroke-width="0.9"/>
<rect x="61.7" y="311.4" width="2.6" height="12.2" fill="#1f4a80" opacity="0.35"/>
<circle cx="63" cy="248.5" r="1.3" fill="#a8acb4" fill-opacity="0.75" stroke="#7a8aa2" stroke-width="0.7" opacity="0.9"/>
<circle cx="63" cy="273.3" r="1.3" fill="#a8acb4" fill-opacity="0.75" stroke="#7a8aa2" stroke-width="0.7" opacity="0.9"/>
<circle cx="63" cy="285.7" r="1.3" fill="#a8acb4" fill-opacity="0.75" stroke="#7a8aa2" stroke-width="0.7" opacity="0.9"/>
<circle cx="63" cy="291.2" r="1.3" fill="#a8acb4" fill-opacity="0.75" stroke="#7a8aa2" stroke-width="0.7" opacity="0.9"/>
<circle cx="63" cy="298" r="1.3" fill="#a8acb4" fill-opacity="0.75" stroke="#7a8aa2" stroke-width="0.7" opacity="0.9"/>
<circle cx="63" cy="304" r="1.3" fill="#a8acb4" fill-opacity="0.75" stroke="#7a8aa2" stroke-width="0.7" opacity="0.9"/>
<circle cx="63" cy="306" r="1.3" fill="#a8acb4" fill-opacity="0.75" stroke="#7a8aa2" stroke-width="0.7" opacity="0.9"/>
<circle cx="63" cy="312.4" r="1.2" fill="none" stroke="#2c5a90" stroke-width="0.6" opacity="0.65"/>
<circle cx="63" cy="314.95" r="1.2" fill="none" stroke="#2c5a90" stroke-width="0.6" opacity="0.65"/>
<circle cx="63" cy="317.5" r="1.2" fill="none" stroke="#2c5a90" stroke-width="0.6" opacity="0.65"/>
<circle cx="63" cy="320.05" r="1.2" fill="none" stroke="#2c5a90" stroke-width="0.6" opacity="0.65"/>
<circle cx="63" cy="322.6" r="1.2" fill="none" stroke="#2c5a90" stroke-width="0.6" opacity="0.65"/>
<rect x="57.6" y="334.7" width="10.8" height="7.2" fill="#0e4580"/>
<line x1="57.6" y1="338.2" x2="68.4" y2="338.2" stroke="#a8d0f4" stroke-width="1"/>
<circle cx="63" cy="336.9" r="1.4" fill="none" stroke="#8fbce6" stroke-width="0.7"/>
<line x1="81.7" y1="324.1" x2="81.7" y2="346.4" stroke="#c4405e" stroke-width="0.9"/>
<line x1="78.7" y1="324.1" x2="84.7" y2="324.1" stroke="#c4405e" stroke-width="0.9"/>
<line x1="78.7" y1="346.4" x2="84.7" y2="346.4" stroke="#c4405e" stroke-width="0.9"/>
<path d="M80.4 267.3H83M81.7 266.2V268.4" stroke="#b04a66" stroke-width="0.9" fill="none" opacity="0.8"/>
<path d="M80.4 296.3H83M81.7 295.2V297.4" stroke="#b04a66" stroke-width="0.9" fill="none" opacity="0.8"/>
<path d="M80.4 303.1H83M81.7 302V304.2" stroke="#b04a66" stroke-width="0.9" fill="none" opacity="0.8"/>
<path d="M80.4 305.7H83M81.7 304.6V306.8" stroke="#b04a66" stroke-width="0.9" fill="none" opacity="0.8"/>
<path d="M80.4 313.1H83M81.7 312V314.2" stroke="#b04a66" stroke-width="0.9" fill="none" opacity="0.8"/>
<path d="M80.4 318.7H83M81.7 317.6V319.8" stroke="#b04a66" stroke-width="0.9" fill="none" opacity="0.8"/>
<path d="M80.4 320.7H83M81.7 319.6V321.8" stroke="#b04a66" stroke-width="0.9" fill="none" opacity="0.8"/>
<rect x="76.3" y="334.6" width="10.8" height="8" fill="#d0062c"/>
<line x1="76.3" y1="341" x2="87.1" y2="341" stroke="#f28c9c" stroke-width="1"/>
<path d="M80.3 337.2H83.1M81.7 335.8V338.6" stroke="#f6c0c8" stroke-width="0.8" fill="none"/>
<line x1="116.4" y1="332.1" x2="116.4" y2="347.5" stroke="#6a84a4" stroke-width="1.1"/>
<line x1="113.4" y1="332.1" x2="119.4" y2="332.1" stroke="#6a84a4" stroke-width="0.9"/>
<line x1="113.4" y1="347.5" x2="119.4" y2="347.5" stroke="#6a84a4" stroke-width="0.9"/>
<rect x="115.1" y="311.3" width="2.6" height="17.1" fill="#1f4a80" opacity="0.5"/>
<circle cx="116.4" cy="279.3" r="1.3" fill="#a8acb4" fill-opacity="0.75" stroke="#7a8aa2" stroke-width="0.7" opacity="0.9"/>
<circle cx="116.4" cy="312.3" r="1.2" fill="none" stroke="#2c5a90" stroke-width="0.6" opacity="0.8"/>
<circle cx="116.4" cy="314.46" r="1.2" fill="none" stroke="#2c5a90" stroke-width="0.6" opacity="0.8"/>
<circle cx="116.4" cy="316.61" r="1.2" fill="none" stroke="#2c5a90" stroke-width="0.6" opacity="0.8"/>
<circle cx="116.4" cy="318.77" r="1.2" fill="none" stroke="#2c5a90" stroke-width="0.6" opacity="0.8"/>
<circle cx="116.4" cy="320.93" r="1.2" fill="none" stroke="#2c5a90" stroke-width="0.6" opacity="0.8"/>
<circle cx="116.4" cy="323.09" r="1.2" fill="none" stroke="#2c5a90" stroke-width="0.6" opacity="0.8"/>
<circle cx="116.4" cy="325.24" r="1.2" fill="none" stroke="#2c5a90" stroke-width="0.6" opacity="0.8"/>
<circle cx="116.4" cy="327.4" r="1.2" fill="none" stroke="#2c5a90" stroke-width="0.6" opacity="0.8"/>
<rect x="111" y="338.2" width="10.8" height="5.2" fill="#0e4580"/>
<line x1="111" y1="341.8" x2="121.8" y2="341.8" stroke="#a8d0f4" stroke-width="1"/>
<circle cx="116.4" cy="339.9" r="1.4" fill="none" stroke="#8fbce6" stroke-width="0.7"/>
<line x1="135.1" y1="330.8" x2="135.1" y2="347.5" stroke="#c4405e" stroke-width="0.9"/>
<line x1="132.1" y1="330.8" x2="138.1" y2="330.8" stroke="#c4405e" stroke-width="0.9"/>
<line x1="132.1" y1="347.5" x2="138.1" y2="347.5" stroke="#c4405e" stroke-width="0.9"/>
<path d="M133.8 279.3H136.4M135.1 278.2V280.4" stroke="#b04a66" stroke-width="0.9" fill="none" opacity="0.8"/>
<path d="M133.8 297.9H136.4M135.1 296.8V299" stroke="#b04a66" stroke-width="0.9" fill="none" opacity="0.8"/>
<path d="M133.8 302.6H136.4M135.1 301.5V303.7" stroke="#b04a66" stroke-width="0.9" fill="none" opacity="0.8"/>
<path d="M133.8 310.9H136.4M135.1 309.8V312" stroke="#b04a66" stroke-width="0.9" fill="none" opacity="0.8"/>
<path d="M133.8 317.5H136.4M135.1 316.4V318.6" stroke="#b04a66" stroke-width="0.9" fill="none" opacity="0.8"/>
<path d="M133.8 322.6H136.4M135.1 321.5V323.7" stroke="#b04a66" stroke-width="0.9" fill="none" opacity="0.8"/>
<path d="M133.8 326.8H136.4M135.1 325.7V327.9" stroke="#b04a66" stroke-width="0.9" fill="none" opacity="0.8"/>
<rect x="129.7" y="338" width="10.8" height="5.5" fill="#d0062c"/>
<line x1="129.7" y1="342.3" x2="140.5" y2="342.3" stroke="#f28c9c" stroke-width="1"/>
<path d="M133.7 339.5H136.5M135.1 338.1V340.9" stroke="#f6c0c8" stroke-width="0.8" fill="none"/>
<line x1="170" y1="328.7" x2="170" y2="346" stroke="#6a84a4" stroke-width="1.1"/>
<line x1="167" y1="328.7" x2="173" y2="328.7" stroke="#6a84a4" stroke-width="0.9"/>
<line x1="167" y1="346" x2="173" y2="346" stroke="#6a84a4" stroke-width="0.9"/>
<rect x="168.7" y="311.1" width="2.6" height="17.9" fill="#1f4a80" opacity="0.85"/>
<circle cx="170" cy="245.6" r="1.3" fill="#a8acb4" fill-opacity="0.75" stroke="#7a8aa2" stroke-width="0.7" opacity="0.9"/>
<circle cx="170" cy="298.2" r="1.3" fill="#a8acb4" fill-opacity="0.75" stroke="#7a8aa2" stroke-width="0.7" opacity="0.9"/>
<circle cx="170" cy="303.4" r="1.3" fill="#a8acb4" fill-opacity="0.75" stroke="#7a8aa2" stroke-width="0.7" opacity="0.9"/>
<circle cx="170" cy="312.1" r="1.2" fill="none" stroke="#2c5a90" stroke-width="0.6" opacity="1"/>
<circle cx="170" cy="314.37" r="1.2" fill="none" stroke="#2c5a90" stroke-width="0.6" opacity="1"/>
<circle cx="170" cy="316.64" r="1.2" fill="none" stroke="#2c5a90" stroke-width="0.6" opacity="1"/>
<circle cx="170" cy="318.91" r="1.2" fill="none" stroke="#2c5a90" stroke-width="0.6" opacity="1"/>
<circle cx="170" cy="321.19" r="1.2" fill="none" stroke="#2c5a90" stroke-width="0.6" opacity="1"/>
<circle cx="170" cy="323.46" r="1.2" fill="none" stroke="#2c5a90" stroke-width="0.6" opacity="1"/>
<circle cx="170" cy="325.73" r="1.2" fill="none" stroke="#2c5a90" stroke-width="0.6" opacity="1"/>
<circle cx="170" cy="328" r="1.2" fill="none" stroke="#2c5a90" stroke-width="0.6" opacity="1"/>
<rect x="164.6" y="337.1" width="10.8" height="5.8" fill="#0e4580"/>
<line x1="164.6" y1="340.5" x2="175.4" y2="340.5" stroke="#a8d0f4" stroke-width="1"/>
<circle cx="170" cy="339" r="1.4" fill="none" stroke="#8fbce6" stroke-width="0.7"/>
<line x1="188.7" y1="328.7" x2="188.7" y2="346" stroke="#c4405e" stroke-width="0.9"/>
<line x1="185.7" y1="328.7" x2="191.7" y2="328.7" stroke="#c4405e" stroke-width="0.9"/>
<line x1="185.7" y1="346" x2="191.7" y2="346" stroke="#c4405e" stroke-width="0.9"/>
<rect x="187.2" y="315" width="3" height="13" fill="#c81a3c" opacity="0.3"/>
<path d="M187.4 277.7H190M188.7 276.6V278.8" stroke="#b04a66" stroke-width="0.9" fill="none" opacity="0.8"/>
<path d="M187.4 286.1H190M188.7 285V287.2" stroke="#b04a66" stroke-width="0.9" fill="none" opacity="0.8"/>
<path d="M187.4 299.8H190M188.7 298.7V300.9" stroke="#b04a66" stroke-width="0.9" fill="none" opacity="0.8"/>
<path d="M187.4 305H190M188.7 303.9V306.1" stroke="#b04a66" stroke-width="0.9" fill="none" opacity="0.8"/>
<path d="M187.4 310.5H190M188.7 309.4V311.6" stroke="#b04a66" stroke-width="0.9" fill="none" opacity="0.8"/>
<path d="M187.4 314.5H190M188.7 313.4V315.6" stroke="#b04a66" stroke-width="0.9" fill="none" opacity="0.8"/>
<path d="M187.4 318.4H190M188.7 317.3V319.5" stroke="#b04a66" stroke-width="0.9" fill="none" opacity="0.8"/>
<path d="M187.4 322.4H190M188.7 321.3V323.5" stroke="#b04a66" stroke-width="0.9" fill="none" opacity="0.8"/>
<path d="M187.4 326.3H190M188.7 325.2V327.4" stroke="#b04a66" stroke-width="0.9" fill="none" opacity="0.8"/>
<rect x="187.2" y="315.5" width="3" height="1" fill="#c42244" opacity="0.6"/>
<rect x="187.2" y="317.7" width="3" height="1" fill="#c42244" opacity="0.6"/>
<rect x="187.2" y="319.9" width="3" height="1" fill="#c42244" opacity="0.6"/>
<rect x="187.2" y="322.1" width="3" height="1" fill="#c42244" opacity="0.6"/>
<rect x="187.2" y="324.3" width="3" height="1" fill="#c42244" opacity="0.6"/>
<rect x="187.2" y="326.5" width="3" height="1" fill="#c42244" opacity="0.6"/>
<rect x="183.3" y="337.1" width="10.8" height="6.3" fill="#d0062c"/>
<line x1="183.3" y1="341.5" x2="194.1" y2="341.5" stroke="#f28c9c" stroke-width="1"/>
<path d="M187.3 339H190.1M188.7 337.6V340.4" stroke="#f6c0c8" stroke-width="0.8" fill="none"/>
<line x1="223.3" y1="329.5" x2="223.3" y2="346.8" stroke="#6a84a4" stroke-width="1.1"/>
<line x1="220.3" y1="329.5" x2="226.3" y2="329.5" stroke="#6a84a4" stroke-width="0.9"/>
<line x1="220.3" y1="346.8" x2="226.3" y2="346.8" stroke="#6a84a4" stroke-width="0.9"/>
<circle cx="223.3" cy="279.1" r="1.3" fill="#a8acb4" fill-opacity="0.75" stroke="#7a8aa2" stroke-width="0.7" opacity="0.9"/>
<circle cx="223.3" cy="294" r="1.3" fill="#a8acb4" fill-opacity="0.75" stroke="#7a8aa2" stroke-width="0.7" opacity="0.9"/>
<circle cx="223.3" cy="304.1" r="1.3" fill="#a8acb4" fill-opacity="0.75" stroke="#7a8aa2" stroke-width="0.7" opacity="0.9"/>
<circle cx="223.3" cy="309.2" r="1.3" fill="#a8acb4" fill-opacity="0.75" stroke="#7a8aa2" stroke-width="0.7" opacity="0.9"/>
<circle cx="223.3" cy="315.4" r="1.3" fill="#a8acb4" fill-opacity="0.75" stroke="#7a8aa2" stroke-width="0.7" opacity="0.9"/>
<circle cx="223.3" cy="319.5" r="1.3" fill="#a8acb4" fill-opacity="0.75" stroke="#7a8aa2" stroke-width="0.7" opacity="0.9"/>
<circle cx="223.3" cy="325.3" r="1.3" fill="#a8acb4" fill-opacity="0.75" stroke="#7a8aa2" stroke-width="0.7" opacity="0.9"/>
<rect x="217.9" y="337.1" width="10.8" height="6.2" fill="#0e4580"/>
<line x1="217.9" y1="341" x2="228.7" y2="341" stroke="#a8d0f4" stroke-width="1"/>
<circle cx="223.3" cy="339" r="1.4" fill="none" stroke="#8fbce6" stroke-width="0.7"/>
<line x1="242" y1="328.8" x2="242" y2="346.8" stroke="#c4405e" stroke-width="0.9"/>
<line x1="239" y1="328.8" x2="245" y2="328.8" stroke="#c4405e" stroke-width="0.9"/>
<line x1="239" y1="346.8" x2="245" y2="346.8" stroke="#c4405e" stroke-width="0.9"/>
<path d="M240.7 245H243.3M242 243.9V246.1" stroke="#b04a66" stroke-width="0.9" fill="none" opacity="0.8"/>
<path d="M240.7 288.6H243.3M242 287.5V289.7" stroke="#b04a66" stroke-width="0.9" fill="none" opacity="0.8"/>
<path d="M240.7 298.9H243.3M242 297.8V300" stroke="#b04a66" stroke-width="0.9" fill="none" opacity="0.8"/>
<path d="M240.7 312.3H243.3M242 311.2V313.4" stroke="#b04a66" stroke-width="0.9" fill="none" opacity="0.8"/>
<path d="M240.7 316.4H243.3M242 315.3V317.5" stroke="#b04a66" stroke-width="0.9" fill="none" opacity="0.8"/>
<path d="M240.7 319.5H243.3M242 318.4V320.6" stroke="#b04a66" stroke-width="0.9" fill="none" opacity="0.8"/>
<path d="M240.7 323.3H243.3M242 322.2V324.4" stroke="#b04a66" stroke-width="0.9" fill="none" opacity="0.8"/>
<path d="M240.7 326.2H243.3M242 325.1V327.3" stroke="#b04a66" stroke-width="0.9" fill="none" opacity="0.8"/>
<rect x="236.6" y="337.1" width="10.8" height="5.6" fill="#d0062c"/>
<line x1="236.6" y1="341" x2="247.4" y2="341" stroke="#f28c9c" stroke-width="1"/>
<path d="M240.6 339H243.4M242 337.6V340.4" stroke="#f6c0c8" stroke-width="0.8" fill="none"/>
<text x="267.8" y="222.9" font-size="11.4" font-weight="bold" fill="#111" stroke="#111" stroke-width="0.25">D</text>
<text transform="translate(392.5,235.5) scale(0.895,1)" font-size="6.9" text-anchor="end" class="t">CD1920 recovery at</text>
<rect x="402" y="230.6" width="5.6" height="5.4" fill="#0e4580"/>
<text transform="translate(411.3,235.5) scale(0.895,1)" font-size="6.9" class="t">100 days</text>
<rect x="442.7" y="230.6" width="5.6" height="5.4" fill="#d0062c"/>
<text transform="translate(452.2,235.5) scale(0.895,1)" font-size="6.9" class="t">6 months</text>
<line x1="313.5" y1="239.3" x2="313.5" y2="354" stroke="#1a1a1a" stroke-width="1.1"/>
<line x1="313" y1="353.5" x2="509.4" y2="353.5" stroke="#1a1a1a" stroke-width="1.1"/>
<line x1="333.5" y1="353.5" x2="333.5" y2="356.5" stroke="#1a1a1a" stroke-width="1"/>
<line x1="386.5" y1="353.5" x2="386.5" y2="356.5" stroke="#1a1a1a" stroke-width="1"/>
<line x1="439.5" y1="353.5" x2="439.5" y2="356.5" stroke="#1a1a1a" stroke-width="1"/>
<line x1="492.5" y1="353.5" x2="492.5" y2="356.5" stroke="#1a1a1a" stroke-width="1"/>
<line x1="309.9" y1="347.5" x2="313.5" y2="347.5" stroke="#222" stroke-width="1"/>
<text transform="translate(307,349.6) scale(0.895,1)" font-size="6.9" text-anchor="end" class="t">0</text>
<line x1="309.9" y1="323.5" x2="313.5" y2="323.5" stroke="#222" stroke-width="1"/>
<text transform="translate(307,326.25) scale(0.895,1)" font-size="6.9" text-anchor="end" class="t">500</text>
<line x1="309.9" y1="300.5" x2="313.5" y2="300.5" stroke="#222" stroke-width="1"/>
<text transform="translate(307,302.9) scale(0.895,1)" font-size="6.9" text-anchor="end" class="t">1000</text>
<line x1="309.9" y1="277.5" x2="313.5" y2="277.5" stroke="#222" stroke-width="1"/>
<text transform="translate(307,279.55) scale(0.895,1)" font-size="6.9" text-anchor="end" class="t">1500</text>
<line x1="309.9" y1="253.5" x2="313.5" y2="253.5" stroke="#222" stroke-width="1"/>
<text transform="translate(307,256.2) scale(0.895,1)" font-size="6.9" text-anchor="end" class="t">2000</text>
<g transform="translate(286.6,319.7) rotate(-90)" style="stroke-width:0.22px"><text x="0" y="0" font-size="8.7" textLength="29.5" lengthAdjust="spacingAndGlyphs" class="t">CD1920,×10</text><text x="29.8" y="-5.0" font-size="5.6" textLength="9" lengthAdjust="spacingAndGlyphs" class="t">6/L</text></g>
<text transform="translate(333.5,365.9) scale(0.895,1)" font-size="6.9" text-anchor="middle" class="t">Ex-vivo T cell</text>
<text transform="translate(333.5,373.5) scale(0.895,1)" font-size="6.9" text-anchor="middle" class="t">depletion/CD34</text>
<text transform="translate(333.5,381.1) scale(0.895,1)" font-size="6.9" text-anchor="middle" class="t">selection ± ATG</text>
<text transform="translate(386.5,365.9) scale(0.895,1)" font-size="6.9" text-anchor="middle" class="t">Unmodified</text>
<text transform="translate(386.5,373.5) scale(0.895,1)" font-size="6.9" text-anchor="middle" class="t">graft with PTCY</text>
<text transform="translate(439.3,365.9) scale(0.895,1)" font-size="6.9" text-anchor="middle" class="t">Unmodified</text>
<text transform="translate(439.3,373.5) scale(0.895,1)" font-size="6.9" text-anchor="middle" class="t">graft with CNI</text>
<text transform="translate(439.3,381.1) scale(0.895,1)" font-size="6.9" text-anchor="middle" class="t">based GVHD</text>
<text transform="translate(439.3,388.7) scale(0.895,1)" font-size="6.9" text-anchor="middle" class="t">ppx without ATG</text>
<text transform="translate(492.5,365.9) scale(0.895,1)" font-size="6.9" text-anchor="middle" class="t">Unmodified</text>
<text transform="translate(492.5,373.5) scale(0.895,1)" font-size="6.9" text-anchor="middle" class="t">graft with CNI</text>
<text transform="translate(492.5,381.1) scale(0.895,1)" font-size="6.9" text-anchor="middle" class="t">based GVHD</text>
<text transform="translate(492.5,388.7) scale(0.895,1)" font-size="6.9" text-anchor="middle" class="t">ppx + ATG</text>
<text x="390.7" y="402.1" font-size="8.7" textLength="46" lengthAdjust="spacingAndGlyphs" class="t" style="stroke-width:0.2px">GVHD prophylaxis</text>
<line x1="324.5" y1="301.1" x2="324.5" y2="346.4" stroke="#6a84a4" stroke-width="1.1"/>
<line x1="321.5" y1="301.1" x2="327.5" y2="301.1" stroke="#6a84a4" stroke-width="0.9"/>
<line x1="321.5" y1="346.4" x2="327.5" y2="346.4" stroke="#6a84a4" stroke-width="0.9"/>
<rect x="319.1" y="328.6" width="10.8" height="17.6" fill="#0e4580"/>
<line x1="319.1" y1="340.6" x2="329.9" y2="340.6" stroke="#a8d0f4" stroke-width="1"/>
<circle cx="324.5" cy="335.4" r="1.4" fill="none" stroke="#8fbce6" stroke-width="0.7"/>
<line x1="343.2" y1="300.5" x2="343.2" y2="347.3" stroke="#c4405e" stroke-width="0.9"/>
<line x1="340.2" y1="300.5" x2="346.2" y2="300.5" stroke="#c4405e" stroke-width="0.9"/>
<line x1="340.2" y1="347.3" x2="346.2" y2="347.3" stroke="#c4405e" stroke-width="0.9"/>
<path d="M341.9 272H344.5M343.2 270.9V273.1" stroke="#b04a66" stroke-width="0.9" fill="none" opacity="0.8"/>
<path d="M341.9 280.3H344.5M343.2 279.2V281.4" stroke="#b04a66" stroke-width="0.9" fill="none" opacity="0.8"/>
<path d="M341.9 292.4H344.5M343.2 291.3V293.5" stroke="#b04a66" stroke-width="0.9" fill="none" opacity="0.8"/>
<path d="M341.9 297H344.5M343.2 295.9V298.1" stroke="#b04a66" stroke-width="0.9" fill="none" opacity="0.8"/>
<rect x="337.8" y="324.3" width="10.8" height="16.5" fill="#d0062c"/>
<line x1="337.8" y1="335.4" x2="348.6" y2="335.4" stroke="#f28c9c" stroke-width="1"/>
<path d="M341.8 330.1H344.6M343.2 328.7V331.5" stroke="#f6c0c8" stroke-width="0.8" fill="none"/>
<line x1="377.5" y1="324.5" x2="377.5" y2="347" stroke="#6a84a4" stroke-width="1.1"/>
<line x1="374.5" y1="324.5" x2="380.5" y2="324.5" stroke="#6a84a4" stroke-width="0.9"/>
<line x1="374.5" y1="347" x2="380.5" y2="347" stroke="#6a84a4" stroke-width="0.9"/>
<circle cx="377.5" cy="254.4" r="1.3" fill="#a8acb4" fill-opacity="0.75" stroke="#7a8aa2" stroke-width="0.7" opacity="0.9"/>
<circle cx="377.5" cy="300.7" r="1.3" fill="#a8acb4" fill-opacity="0.75" stroke="#7a8aa2" stroke-width="0.7" opacity="0.9"/>
<circle cx="377.5" cy="318.5" r="1.3" fill="#a8acb4" fill-opacity="0.75" stroke="#7a8aa2" stroke-width="0.7" opacity="0.9"/>
<circle cx="377.5" cy="320.5" r="1.3" fill="#a8acb4" fill-opacity="0.75" stroke="#7a8aa2" stroke-width="0.7" opacity="0.9"/>
<circle cx="377.5" cy="322" r="1.3" fill="#a8acb4" fill-opacity="0.75" stroke="#7a8aa2" stroke-width="0.7" opacity="0.9"/>
<rect x="372.1" y="337.6" width="10.8" height="8.3" fill="#0e4580"/>
<line x1="372.1" y1="343.9" x2="382.9" y2="343.9" stroke="#a8d0f4" stroke-width="1"/>
<circle cx="377.5" cy="339.8" r="1.4" fill="none" stroke="#8fbce6" stroke-width="0.7"/>
<line x1="396.2" y1="319.4" x2="396.2" y2="347.2" stroke="#c4405e" stroke-width="0.9"/>
<line x1="393.2" y1="319.4" x2="399.2" y2="319.4" stroke="#c4405e" stroke-width="0.9"/>
<line x1="393.2" y1="347.2" x2="399.2" y2="347.2" stroke="#c4405e" stroke-width="0.9"/>
<path d="M394.9 254.4H397.5M396.2 253.3V255.5" stroke="#b04a66" stroke-width="0.9" fill="none" opacity="0.8"/>
<path d="M394.9 279.8H397.5M396.2 278.7V280.9" stroke="#b04a66" stroke-width="0.9" fill="none" opacity="0.8"/>
<path d="M394.9 298.6H397.5M396.2 297.5V299.7" stroke="#b04a66" stroke-width="0.9" fill="none" opacity="0.8"/>
<path d="M394.9 301.8H397.5M396.2 300.7V302.9" stroke="#b04a66" stroke-width="0.9" fill="none" opacity="0.8"/>
<path d="M394.9 307.1H397.5M396.2 306V308.2" stroke="#b04a66" stroke-width="0.9" fill="none" opacity="0.8"/>
<path d="M394.9 310.6H397.5M396.2 309.5V311.7" stroke="#b04a66" stroke-width="0.9" fill="none" opacity="0.8"/>
<path d="M394.9 314.6H397.5M396.2 313.5V315.7" stroke="#b04a66" stroke-width="0.9" fill="none" opacity="0.8"/>
<path d="M394.9 316.8H397.5M396.2 315.7V317.9" stroke="#b04a66" stroke-width="0.9" fill="none" opacity="0.8"/>
<rect x="390.8" y="334.3" width="10.8" height="11" fill="#d0062c"/>
<line x1="390.8" y1="340.9" x2="401.6" y2="340.9" stroke="#f28c9c" stroke-width="1"/>
<path d="M394.8 336.1H397.6M396.2 334.7V337.5" stroke="#f6c0c8" stroke-width="0.8" fill="none"/>
<line x1="430.3" y1="325.7" x2="430.3" y2="347" stroke="#6a84a4" stroke-width="1.1"/>
<line x1="427.3" y1="325.7" x2="433.3" y2="325.7" stroke="#6a84a4" stroke-width="0.9"/>
<line x1="427.3" y1="347" x2="433.3" y2="347" stroke="#6a84a4" stroke-width="0.9"/>
<rect x="429" y="296.2" width="2.6" height="28.3" fill="#1f4a80" opacity="0.35"/>
<circle cx="430.3" cy="254.1" r="1.3" fill="#a8acb4" fill-opacity="0.75" stroke="#7a8aa2" stroke-width="0.7" opacity="0.9"/>
<circle cx="430.3" cy="264.8" r="1.3" fill="#a8acb4" fill-opacity="0.75" stroke="#7a8aa2" stroke-width="0.7" opacity="0.9"/>
<circle cx="430.3" cy="274.5" r="1.3" fill="#a8acb4" fill-opacity="0.75" stroke="#7a8aa2" stroke-width="0.7" opacity="0.9"/>
<circle cx="430.3" cy="277.1" r="1.3" fill="#a8acb4" fill-opacity="0.75" stroke="#7a8aa2" stroke-width="0.7" opacity="0.9"/>
<circle cx="430.3" cy="280.1" r="1.3" fill="#a8acb4" fill-opacity="0.75" stroke="#7a8aa2" stroke-width="0.7" opacity="0.9"/>
<circle cx="430.3" cy="287.2" r="1.3" fill="#a8acb4" fill-opacity="0.75" stroke="#7a8aa2" stroke-width="0.7" opacity="0.9"/>
<circle cx="430.3" cy="289.2" r="1.3" fill="#a8acb4" fill-opacity="0.75" stroke="#7a8aa2" stroke-width="0.7" opacity="0.9"/>
<circle cx="430.3" cy="297.2" r="1.2" fill="none" stroke="#2c5a90" stroke-width="0.6" opacity="0.65"/>
<circle cx="430.3" cy="299.39" r="1.2" fill="none" stroke="#2c5a90" stroke-width="0.6" opacity="0.65"/>
<circle cx="430.3" cy="301.58" r="1.2" fill="none" stroke="#2c5a90" stroke-width="0.6" opacity="0.65"/>
<circle cx="430.3" cy="303.77" r="1.2" fill="none" stroke="#2c5a90" stroke-width="0.6" opacity="0.65"/>
<circle cx="430.3" cy="305.97" r="1.2" fill="none" stroke="#2c5a90" stroke-width="0.6" opacity="0.65"/>
<circle cx="430.3" cy="308.16" r="1.2" fill="none" stroke="#2c5a90" stroke-width="0.6" opacity="0.65"/>
<circle cx="430.3" cy="310.35" r="1.2" fill="none" stroke="#2c5a90" stroke-width="0.6" opacity="0.65"/>
<circle cx="430.3" cy="312.54" r="1.2" fill="none" stroke="#2c5a90" stroke-width="0.6" opacity="0.65"/>
<circle cx="430.3" cy="314.73" r="1.2" fill="none" stroke="#2c5a90" stroke-width="0.6" opacity="0.65"/>
<circle cx="430.3" cy="316.93" r="1.2" fill="none" stroke="#2c5a90" stroke-width="0.6" opacity="0.65"/>
<circle cx="430.3" cy="319.12" r="1.2" fill="none" stroke="#2c5a90" stroke-width="0.6" opacity="0.65"/>
<circle cx="430.3" cy="321.31" r="1.2" fill="none" stroke="#2c5a90" stroke-width="0.6" opacity="0.65"/>
<circle cx="430.3" cy="323.5" r="1.2" fill="none" stroke="#2c5a90" stroke-width="0.6" opacity="0.65"/>
<rect x="424.9" y="337.7" width="10.8" height="7.7" fill="#0e4580"/>
<line x1="424.9" y1="344.4" x2="435.7" y2="344.4" stroke="#a8d0f4" stroke-width="1"/>
<line x1="449" y1="314.3" x2="449" y2="346.4" stroke="#c4405e" stroke-width="0.9"/>
<line x1="446" y1="314.3" x2="452" y2="314.3" stroke="#c4405e" stroke-width="0.9"/>
<line x1="446" y1="346.4" x2="452" y2="346.4" stroke="#c4405e" stroke-width="0.9"/>
<path d="M447.7 254.1H450.3M449 253V255.2" stroke="#b04a66" stroke-width="0.9" fill="none" opacity="0.8"/>
<path d="M447.7 256.8H450.3M449 255.7V257.9" stroke="#b04a66" stroke-width="0.9" fill="none" opacity="0.8"/>
<path d="M447.7 261.7H450.3M449 260.6V262.8" stroke="#b04a66" stroke-width="0.9" fill="none" opacity="0.8"/>
<path d="M447.7 271.8H450.3M449 270.7V272.9" stroke="#b04a66" stroke-width="0.9" fill="none" opacity="0.8"/>
<path d="M447.7 273.8H450.3M449 272.7V274.9" stroke="#b04a66" stroke-width="0.9" fill="none" opacity="0.8"/>
<path d="M447.7 277.8H450.3M449 276.7V278.9" stroke="#b04a66" stroke-width="0.9" fill="none" opacity="0.8"/>
<path d="M447.7 280.9H450.3M449 279.8V282" stroke="#b04a66" stroke-width="0.9" fill="none" opacity="0.8"/>
<path d="M447.7 286.5H450.3M449 285.4V287.6" stroke="#b04a66" stroke-width="0.9" fill="none" opacity="0.8"/>
<path d="M447.7 287.9H450.3M449 286.8V289" stroke="#b04a66" stroke-width="0.9" fill="none" opacity="0.8"/>
<path d="M447.7 290.5H450.3M449 289.4V291.6" stroke="#b04a66" stroke-width="0.9" fill="none" opacity="0.8"/>
<path d="M447.7 293H450.3M449 291.9V294.1" stroke="#b04a66" stroke-width="0.9" fill="none" opacity="0.8"/>
<path d="M447.7 295.6H450.3M449 294.5V296.7" stroke="#b04a66" stroke-width="0.9" fill="none" opacity="0.8"/>
<path d="M447.7 298.6H450.3M449 297.5V299.7" stroke="#b04a66" stroke-width="0.9" fill="none" opacity="0.8"/>
<path d="M447.7 300.1H450.3M449 299V301.2" stroke="#b04a66" stroke-width="0.9" fill="none" opacity="0.8"/>
<path d="M447.7 306H450.3M449 304.9V307.1" stroke="#b04a66" stroke-width="0.9" fill="none" opacity="0.8"/>
<path d="M447.7 310.3H450.3M449 309.2V311.4" stroke="#b04a66" stroke-width="0.9" fill="none" opacity="0.8"/>
<rect x="443.6" y="332.3" width="10.8" height="12.4" fill="#d0062c"/>
<line x1="443.6" y1="340.3" x2="454.4" y2="340.3" stroke="#f28c9c" stroke-width="1"/>
<path d="M447.6 334.5H450.4M449 333.1V335.9" stroke="#f6c0c8" stroke-width="0.8" fill="none"/>
<line x1="483.5" y1="329.5" x2="483.5" y2="347" stroke="#6a84a4" stroke-width="1.1"/>
<line x1="480.5" y1="329.5" x2="486.5" y2="329.5" stroke="#6a84a4" stroke-width="0.9"/>
<line x1="480.5" y1="347" x2="486.5" y2="347" stroke="#6a84a4" stroke-width="0.9"/>
<circle cx="483.5" cy="287.3" r="1.3" fill="#a8acb4" fill-opacity="0.75" stroke="#7a8aa2" stroke-width="0.7" opacity="0.9"/>
<circle cx="483.5" cy="300.7" r="1.3" fill="#a8acb4" fill-opacity="0.75" stroke="#7a8aa2" stroke-width="0.7" opacity="0.9"/>
<circle cx="483.5" cy="307.1" r="1.3" fill="#a8acb4" fill-opacity="0.75" stroke="#7a8aa2" stroke-width="0.7" opacity="0.9"/>
<circle cx="483.5" cy="314.1" r="1.3" fill="#a8acb4" fill-opacity="0.75" stroke="#7a8aa2" stroke-width="0.7" opacity="0.9"/>
<circle cx="483.5" cy="316" r="1.3" fill="#a8acb4" fill-opacity="0.75" stroke="#7a8aa2" stroke-width="0.7" opacity="0.9"/>
<circle cx="483.5" cy="324.8" r="1.3" fill="#a8acb4" fill-opacity="0.75" stroke="#7a8aa2" stroke-width="0.7" opacity="0.9"/>
<rect x="478.1" y="339.3" width="10.8" height="6.6" fill="#0e4580"/>
<line x1="478.1" y1="342.8" x2="488.9" y2="342.8" stroke="#a8d0f4" stroke-width="1"/>
<line x1="502.2" y1="314.4" x2="502.2" y2="347" stroke="#c4405e" stroke-width="0.9"/>
<line x1="499.2" y1="314.4" x2="505.2" y2="314.4" stroke="#c4405e" stroke-width="0.9"/>
<line x1="499.2" y1="347" x2="505.2" y2="347" stroke="#c4405e" stroke-width="0.9"/>
<path d="M500.9 254.4H503.5M502.2 253.3V255.5" stroke="#b04a66" stroke-width="0.9" fill="none" opacity="0.8"/>
<path d="M500.9 259H503.5M502.2 257.9V260.1" stroke="#b04a66" stroke-width="0.9" fill="none" opacity="0.8"/>
<path d="M500.9 265.9H503.5M502.2 264.8V267" stroke="#b04a66" stroke-width="0.9" fill="none" opacity="0.8"/>
<path d="M500.9 293.8H503.5M502.2 292.7V294.9" stroke="#b04a66" stroke-width="0.9" fill="none" opacity="0.8"/>
<path d="M500.9 298H503.5M502.2 296.9V299.1" stroke="#b04a66" stroke-width="0.9" fill="none" opacity="0.8"/>
<path d="M500.9 302.6H503.5M502.2 301.5V303.7" stroke="#b04a66" stroke-width="0.9" fill="none" opacity="0.8"/>
<path d="M500.9 306.6H503.5M502.2 305.5V307.7" stroke="#b04a66" stroke-width="0.9" fill="none" opacity="0.8"/>
<path d="M500.9 310.6H503.5M502.2 309.5V311.7" stroke="#b04a66" stroke-width="0.9" fill="none" opacity="0.8"/>
<rect x="496.8" y="332.3" width="10.8" height="13.6" fill="#d0062c"/>
<line x1="496.8" y1="342.8" x2="507.6" y2="342.8" stroke="#f28c9c" stroke-width="1"/>
<path d="M500.8 335H503.6M502.2 333.6V336.4" stroke="#f6c0c8" stroke-width="0.8" fill="none"/>
</svg>
<div class="border"></div>
</div>
</body></html>
